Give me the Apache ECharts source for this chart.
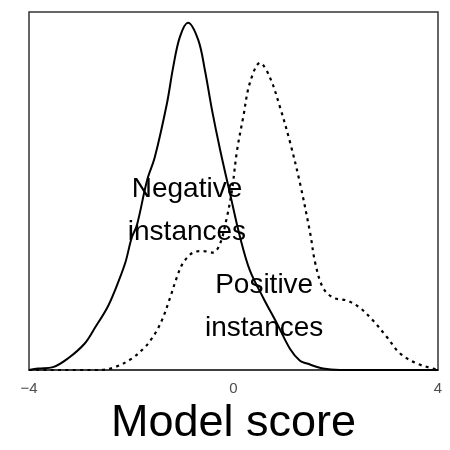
<!DOCTYPE html>
<html>
<head>
<meta charset="utf-8">
<script src="https://cdn.jsdelivr.net/npm/echarts@6/dist/echarts.min.js"></script>
<style>
html, body { margin: 0; padding: 0; background: #fff; }
#chart { width: 450px; height: 450px; }
</style>
</head>
<body>
<div id="chart"></div>
<script>
// 密度曲线数据
var negX = [-4.0, -3.82, -3.53, -3.24, -2.91, -2.71, -2.47, -2.32, -2.12, -1.99, -1.89, -1.69, -1.54, -1.30, -1.18, -1.05, -0.89, -0.69, -0.56, -0.42, -0.26, -0.07, 0.13, 0.32, 0.58, 0.85, 1.11, 1.30, 1.44, 1.75, 2.08, 4.0];
var negY = [0, 0.002, 0.004, 0.016, 0.037, 0.059, 0.087, 0.111, 0.149, 0.185, 0.202, 0.265, 0.297, 0.373, 0.423, 0.465, 0.485, 0.461, 0.419, 0.363, 0.307, 0.247, 0.185, 0.139, 0.101, 0.065, 0.029, 0.013, 0.009, 0.002, 0, 0];

var posX = [-4.0, -2.61, -2.32, -1.99, -1.73, -1.63, -1.50, -1.38, -1.24, -1.11, -0.99, -0.79, -0.60, -0.40, -0.26, -0.13, -0.03, 0.07, 0.19, 0.32, 0.52, 0.71, 0.91, 1.11, 1.30, 1.50, 1.60, 1.75, 1.95, 2.22, 2.47, 2.73, 3.00, 3.26, 3.59, 3.90, 4.0];
var posY = [0, 0, 0.004, 0.016, 0.032, 0.041, 0.055, 0.073, 0.101, 0.129, 0.149, 0.164, 0.166, 0.164, 0.177, 0.213, 0.251, 0.307, 0.353, 0.401, 0.429, 0.409, 0.367, 0.317, 0.261, 0.191, 0.149, 0.115, 0.101, 0.097, 0.087, 0.069, 0.046, 0.023, 0.009, 0.002, 0];

var xTicks = [-4, 0, 4];
var labelNeg = ['Negative', 'instances'];
var labelPos = ['Positive', 'instances'];
var labelNegAt = [-0.91, 0.222];
var labelPosAt = [0.6, 0.088];

function zip(xs, ys) {
    var out = [];
    for (var i = 0; i < xs.length; i++) {
        out.push([xs[i], ys[i]]);
    }
    return out;
}

var myChart = echarts.init(document.getElementById('chart'));

var textStyle = {
    show: true,
    position: 'inside',
    color: '#000',
    fontSize: 28,
    lineHeight: 43,
    fontFamily: '"Liberation Sans", Arial, sans-serif'
};

myChart.setOption({
    animation: false,
    backgroundColor: '#fff',
    grid: {
        left: 29,
        right: 12,
        top: 12,
        bottom: 80,
        outerBoundsMode: 'none',
        containLabel: false,
        show: true,
        borderColor: '#333',
        borderWidth: 1.5,
        backgroundColor: '#fff'
    },
    xAxis: {
        type: 'value',
        min: xTicks[0],
        max: xTicks[xTicks.length - 1],
        interval: 4,
        name: 'Model score',
        nameLocation: 'middle',
        nameGap: 30,
        nameTextStyle: {
            color: '#000',
            fontSize: 45,
            fontFamily: '"Liberation Sans", Arial, sans-serif'
        },
        axisLine: { show: true, lineStyle: { color: '#333', width: 1.5 } },
        axisTick: { show: false },
        splitLine: { show: false },
        axisLabel: {
            color: '#4d4d4d',
            fontSize: 15,
            margin: 11,
            fontFamily: '"Liberation Sans", Arial, sans-serif',
            formatter: function (v) {
                return String(v).replace('-', '\u2212');
            }
        }
    },
    yAxis: {
        type: 'value',
        min: 0,
        max: 0.5,
        show: false
    },
    series: [
        {
            name: 'negative',
            type: 'line',
            data: zip(negX, negY),
            showSymbol: false,
            smooth: 0.35,
            lineStyle: { color: '#000', width: 2, type: 'solid' },
            markPoint: {
                symbol: 'circle',
                symbolSize: 0,
                data: [{ coord: labelNegAt, value: 0 }],
                label: Object.assign({ formatter: labelNeg.join('\n') }, textStyle)
            }
        },
        {
            name: 'positive',
            type: 'line',
            data: zip(posX, posY),
            showSymbol: false,
            smooth: 0.35,
            lineStyle: { color: '#000', width: 2.2, type: [3, 4.3] },
            markPoint: {
                symbol: 'circle',
                symbolSize: 0,
                data: [{ coord: labelPosAt, value: 0 }],
                label: Object.assign({ formatter: labelPos.join('\n') }, textStyle)
            }
        }
    ]
});
</script>
</body>
</html>
